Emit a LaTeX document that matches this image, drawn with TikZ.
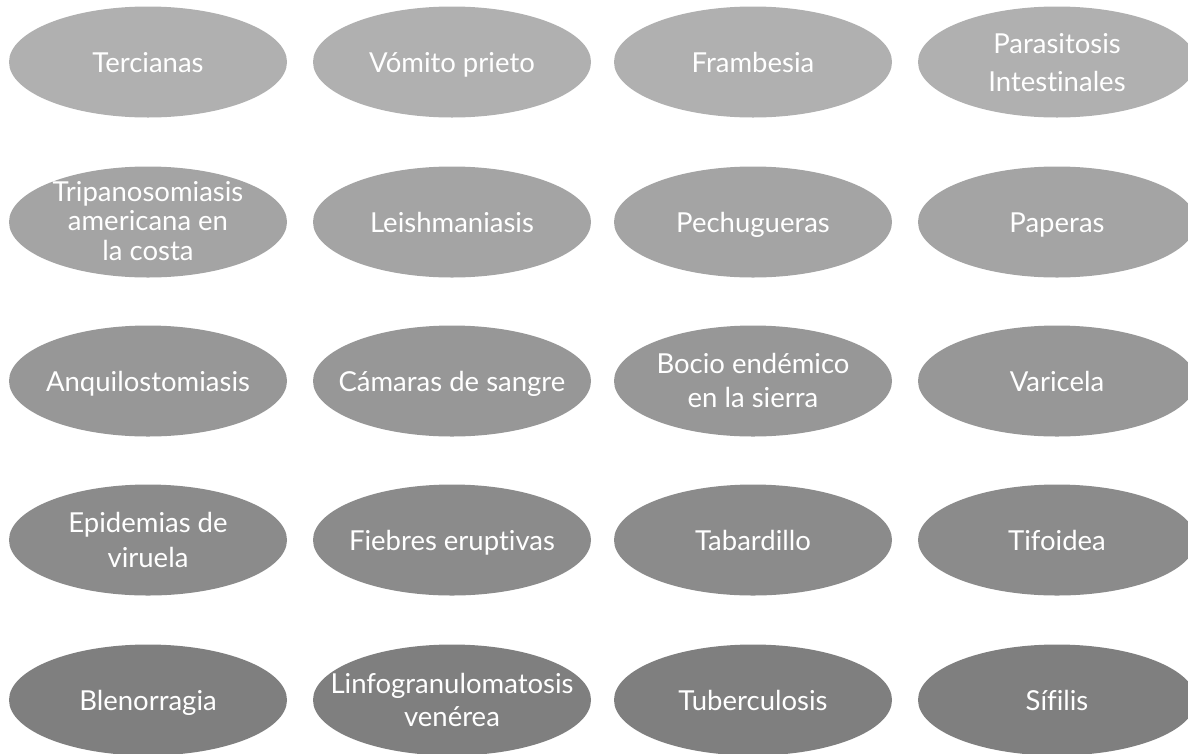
\documentclass[tikz,border=0pt]{standalone}
\usepackage{fontspec}
\setmainfont{Lato}[Ligatures=NoCommon]
\usetikzlibrary{shapes.geometric}
\definecolor{r1}{HTML}{B0B0B0}
\definecolor{r2}{HTML}{A4A4A4}
\definecolor{r3}{HTML}{979797}
\definecolor{r4}{HTML}{8B8B8B}
\definecolor{r5}{HTML}{7F7F7F}
\tikzset{
  dis/.style={ellipse, minimum width=278pt, minimum height=111pt, inner sep=0pt},
  txt/.style={inner sep=0pt, text=white, align=center, yshift=-3pt,
    font=\fontsize{27.5}{36}\selectfont},
}
\newcommand{\dnode}[5][]{%
  \node[dis, fill=#2] (#3) at (#4) {};
  \node[txt, #1] (#3t) at (#3) {#5};}
\begin{document}
\begin{tikzpicture}[x=1pt,y=-1pt]
\useasboundingbox (0,0) rectangle (1188,753);
\clip (0,0) rectangle (1188,753);
% row 1
\dnode{r1}{a1}{148,62}{\strut Tercianas}
\dnode{r1}{a2}{452,62}{\strut Vómito prieto}
\dnode{r1}{a3}{753,62}{\strut Frambesia}
\dnode[font=\fontsize{27.5}{38}\selectfont]{r1}{a4}{1057,62}{\strut Parasitosis\\\strut Intestinales}
% row 2
\dnode[font=\fontsize{27.5}{28}\selectfont]{r2}{b1}{148,222}{\strut Tripanosomiasis\\\strut americana en\\\strut la costa}
\dnode{r2}{b2}{452,222}{\strut Leishmaniasis}
\dnode{r2}{b3}{753,222}{\strut Pechugueras}
\dnode{r2}{b4}{1057,222}{\strut Paperas}
% row 3
\dnode{r3}{c1}{148,381}{\strut Anquilostomiasis}
\dnode{r3}{c2}{452,381}{\strut Cámaras de sangre}
\dnode[font=\fontsize{27.5}{34}\selectfont]{r3}{c3}{753,381}{\strut Bocio endémico\\\strut en la sierra}
\dnode{r3}{c4}{1057,381}{\strut Varicela}
% row 4
\dnode[font=\fontsize{27.5}{35}\selectfont]{r4}{d1}{148,540}{\strut Epidemias de\\\strut viruela}
\dnode{r4}{d2}{452,540}{\strut Fiebres eruptivas}
\dnode{r4}{d3}{753,540}{\strut Tabardillo}
\dnode{r4}{d4}{1057,540}{\strut Tifoidea}
% row 5
\dnode{r5}{e1}{148,700}{\strut Blenorragia}
\dnode[font=\fontsize{27.5}{33}\selectfont]{r5}{e2}{452,700}{\strut Linfogranulomatosis\\\strut venérea}
\dnode{r5}{e3}{753,700}{\strut Tuberculosis}
\dnode{r5}{e4}{1057,700}{\strut Sífilis}
\end{tikzpicture}
\end{document}
